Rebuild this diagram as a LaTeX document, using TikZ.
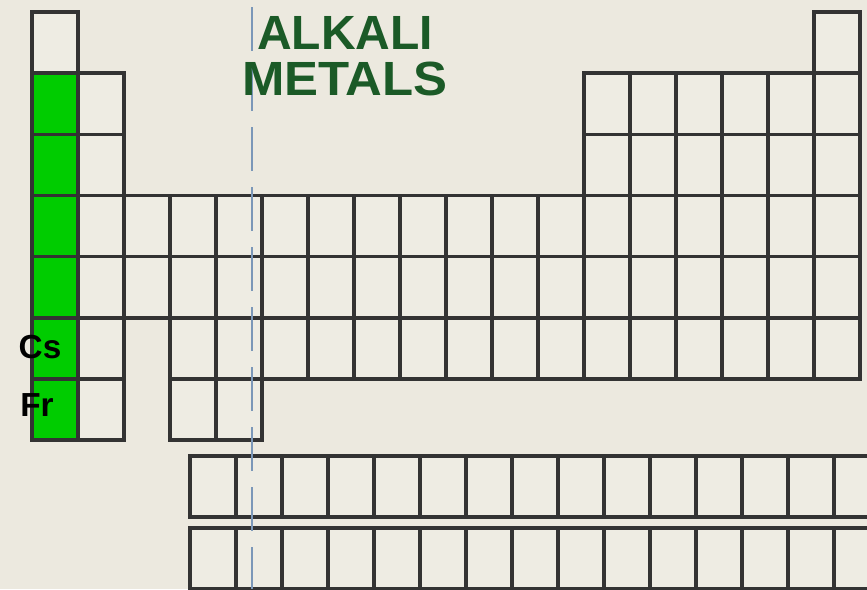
\documentclass[tikz,border=0pt]{standalone}
\usepackage{fontspec}
\setmainfont{Liberation Sans}
\definecolor{cBg}{HTML}{ECE9DF}
\definecolor{cCell}{HTML}{EEECE3}
\definecolor{cAlk}{HTML}{00CC00}
\definecolor{cGrid}{HTML}{333333}
\definecolor{cDash}{HTML}{7B97B8}
\definecolor{cHand}{HTML}{1B5A27}

% one box of the table: column, row
\newcommand{\elembox}[3][cCell]{%
  \draw[cellbox, fill=#1] ({32+46*(#2-1)},{12+61.15*(#3-1)}) rectangle ++(46,61.15);}

\begin{document}
\begin{tikzpicture}[
  x=0.75pt, y=-0.75pt,
  cellbox/.style={draw=cGrid, line width=2.7pt},
  fbox/.style={draw=cGrid, line width=2.7pt, fill=cCell},
  guide/.style={draw=cDash, line width=1.5pt, dash pattern=on 33pt off 12pt},
  hand/.style={text=cHand, font=\fontsize{36}{38}\selectfont\bfseries, inner sep=0pt},
  sym/.style={text=black, font=\fontsize{25}{27}\selectfont\bfseries, inner sep=0pt},
]

\fill[cBg] (0,0) rectangle (867,589);
\clip (0,0) rectangle (867,589);

% main block
\elembox{1}{1}
\elembox{18}{1}
\foreach \r in {2,3}
  \foreach \c in {2,13,14,15,16,17,18} {\elembox{\c}{\r}}
\foreach \r in {4,5}
  \foreach \c in {2,...,18} {\elembox{\c}{\r}}
\foreach \c in {2,4,5,...,18} {\elembox{\c}{6}}
\foreach \c in {2,4,5} {\elembox{\c}{7}}

% alkali metals column
\foreach \r in {2,...,7} {\elembox[cAlk]{1}{\r}}

% lanthanides and actinides
\foreach \y in {456,528}
  \foreach \c in {0,...,14}
    \draw[fbox] ({190+46*\c},\y) rectangle ++(46,61);

% dividing line
\coordinate (top) at (252,7);
\coordinate (bot) at (252,589);
\draw[guide] (top) -- (bot);

\node[hand] (alk) at (345,33) {ALKALI};
\node[hand, xscale=1.06] (met) at (345,79) {METALS};
\node[sym] (cs) at (40,347) {Cs};
\node[sym] (fr) at (37,405) {Fr};

\end{tikzpicture}
\end{document}
